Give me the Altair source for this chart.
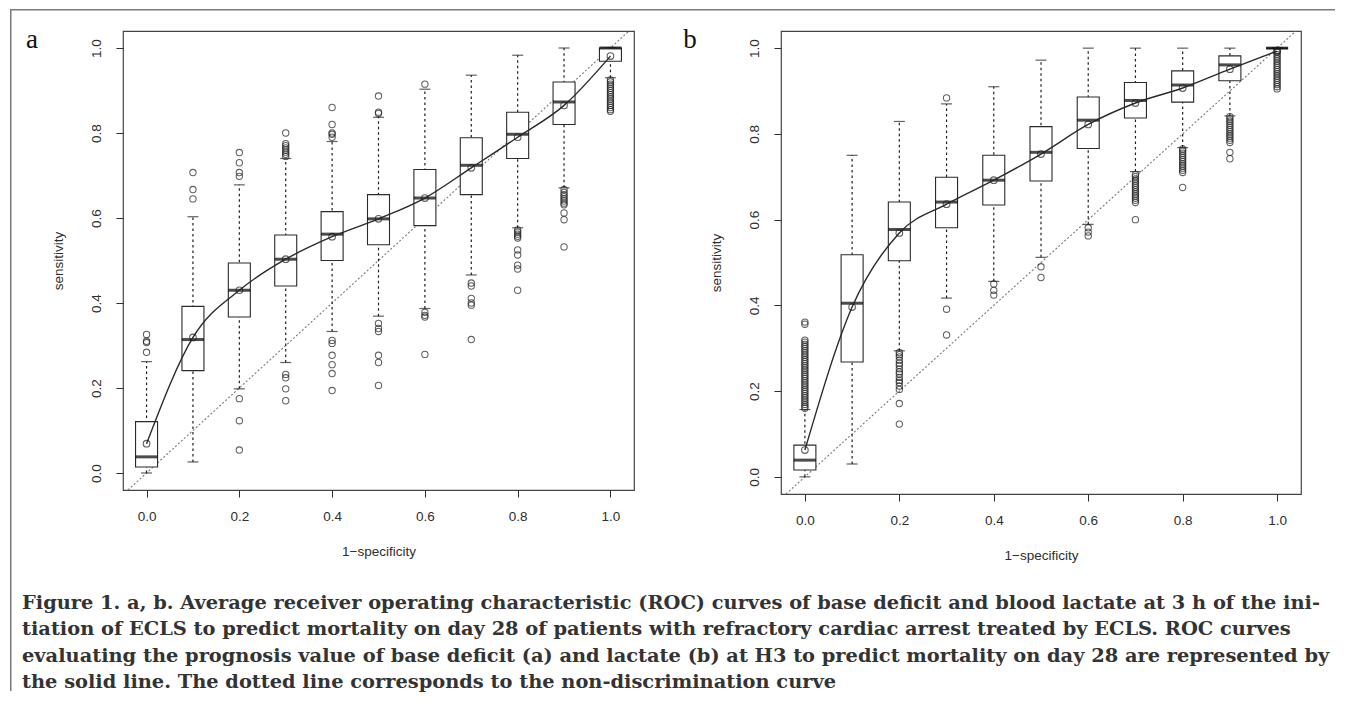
import altair as alt
import pandas as pd

# ---------------- data ----------------
POS = [0.0, 0.1, 0.2, 0.3, 0.4, 0.5, 0.6, 0.7, 0.8, 0.9, 1.0]
TICKS = [0.0, 0.2, 0.4, 0.6, 0.8, 1.0]
DIAG = [-0.04, 1.04]

# panel a : base deficit
A_LO = [0.000, 0.026, 0.198, 0.260, 0.333, 0.369, 0.387, 0.466, 0.577, 0.671, 0.930]
A_Q1 = [0.014, 0.241, 0.367, 0.440, 0.500, 0.537, 0.582, 0.655, 0.740, 0.820, 0.969]
A_MED = [0.038, 0.314, 0.430, 0.503, 0.562, 0.598, 0.647, 0.724, 0.797, 0.873, 1.000]
A_Q3 = [0.121, 0.392, 0.494, 0.560, 0.615, 0.655, 0.714, 0.789, 0.849, 0.920, 1.000]
A_HI = [0.262, 0.603, 0.678, 0.740, 0.780, 0.837, 0.903, 0.936, 0.983, 1.000, 1.000]
A_MEAN = [0.069, 0.319, 0.430, 0.503, 0.556, 0.598, 0.647, 0.718, 0.790, 0.865, 0.981]
A_OUT = [
    [0.326, 0.310, 0.307, 0.284],
    [0.645, 0.667, 0.707],
    [0.698, 0.707, 0.730, 0.754, 0.175, 0.123, 0.054],
    [0.745, 0.750, 0.755, 0.760, 0.765, 0.770, 0.775, 0.800, 0.232, 0.224, 0.198, 0.170],
    [0.790, 0.797, 0.800, 0.820, 0.860, 0.312, 0.305, 0.277, 0.255, 0.234, 0.194],
    [0.846, 0.849, 0.887, 0.352, 0.340, 0.333, 0.277, 0.260, 0.206],
    [0.915, 0.378, 0.371, 0.367, 0.279],
    [0.447, 0.440, 0.411, 0.400, 0.395, 0.314],
    [0.572, 0.567, 0.562, 0.557, 0.553, 0.525, 0.513, 0.489, 0.480, 0.430],
    [0.667, 0.660, 0.655, 0.650, 0.645, 0.640, 0.635, 0.631, 0.612, 0.596, 0.532],
    [0.925, 0.920, 0.915, 0.910, 0.905, 0.900, 0.895, 0.890, 0.885, 0.880,
     0.875, 0.870, 0.865, 0.860, 0.855, 0.851],
]

# panel b : lactate
B_LO = [0.000, 0.030, 0.294, 0.417, 0.456, 0.512, 0.589, 0.712, 0.768, 0.842, 1.000]
B_Q1 = [0.016, 0.268, 0.504, 0.581, 0.634, 0.690, 0.766, 0.837, 0.874, 0.924, 1.000]
B_MED = [0.039, 0.405, 0.577, 0.641, 0.692, 0.757, 0.832, 0.878, 0.914, 0.961, 1.000]
B_Q3 = [0.074, 0.518, 0.641, 0.699, 0.750, 0.817, 0.886, 0.920, 0.947, 0.982, 1.000]
B_HI = [0.157, 0.750, 0.829, 0.870, 0.910, 0.972, 1.000, 1.000, 1.000, 1.000, 1.000]
B_MEAN = [0.0625, 0.396, 0.569, 0.636, 0.692, 0.753, 0.822, 0.872, 0.907, 0.951, 0.993]
B_OUT = [
    [0.361, 0.356, 0.319, 0.314, 0.309, 0.304, 0.299, 0.294, 0.289, 0.284, 0.279,
     0.274, 0.269, 0.264, 0.259, 0.254, 0.249, 0.244, 0.239, 0.234, 0.229, 0.224,
     0.219, 0.214, 0.209, 0.204, 0.199, 0.194, 0.189, 0.184, 0.179, 0.174, 0.169,
     0.164, 0.160],
    [],
    [0.290, 0.285, 0.280, 0.272, 0.265, 0.260, 0.252, 0.245, 0.240, 0.232, 0.225,
     0.220, 0.212, 0.204, 0.171, 0.123],
    [0.884, 0.391, 0.331],
    [0.450, 0.435, 0.424],
    [0.490, 0.465],
    [0.581, 0.571, 0.562],
    [0.705, 0.700, 0.695, 0.690, 0.685, 0.680, 0.675, 0.670, 0.665, 0.660, 0.655,
     0.650, 0.645, 0.640, 0.600],
    [0.765, 0.760, 0.755, 0.750, 0.745, 0.740, 0.735, 0.730, 0.725, 0.720, 0.715,
     0.710, 0.675],
    [0.840, 0.835, 0.830, 0.825, 0.820, 0.815, 0.810, 0.805, 0.800, 0.795, 0.790,
     0.785, 0.780, 0.757, 0.742],
    [0.995, 0.990, 0.985, 0.980, 0.975, 0.970, 0.965, 0.960, 0.955, 0.950, 0.945,
     0.940, 0.935, 0.930, 0.925, 0.920, 0.915, 0.910, 0.905],
]

CAPTION_LINES = [
    "Figure 1. a, b. Average receiver operating characteristic (ROC) curves of base deficit and blood lactate at 3 h of the ini-",
    "tiation of ECLS to predict mortality on day 28 of patients with refractory cardiac arrest treated by ECLS. ROC curves",
    "evaluating the prognosis value of base deficit (a) and lactate (b) at H3 to predict mortality on day 28 are represented by",
    "the solid line. The dotted line corresponds to the non-discrimination curve",
]

X_TITLE = "1\u2212specificity"
Y_TITLE = "sensitivity"

SANS = "Liberation Sans"
SERIF = "Liberation Serif"
CAPFONT = "DejaVu Serif"
INK = "#1e1e1e"
AXC = "#2e2e2e"


def panel(lo, q1, med, q3, hi, mean, outs, width, height, letter, extras=None):
    stats = pd.DataFrame({"x": POS, "lo": lo, "q1": q1, "med": med,
                          "q3": q3, "hi": hi, "mean": mean})
    rows = [(p, v) for p, vs in zip(POS, outs) for v in vs]
    out_df = pd.DataFrame(rows, columns=["x", "v"])
    diag_df = pd.DataFrame({"dx": DIAG, "dy": DIAG})

    xs = alt.Scale(domain=[-0.04, 1.04], nice=False, zero=False)
    ys = alt.Scale(domain=[-0.04, 1.04], nice=False, zero=False)
    xax = alt.Axis(values=TICKS, format=".1f", title=X_TITLE, grid=False, domain=False,
                   tickSize=7, tickColor=AXC, tickWidth=1, labelFont=SANS, labelFontSize=13.5,
                   labelColor=AXC, labelPadding=12, titleFont=SANS, titleFontSize=13.5,
                   titleFontWeight="normal", titleColor=AXC, titlePadding=22)
    yax = alt.Axis(values=TICKS, format=".1f", title=Y_TITLE, grid=False, domain=False,
                   tickSize=7, tickColor=AXC, tickWidth=1, labelFont=SANS, labelFontSize=13.5,
                   labelColor=AXC, labelPadding=13, labelAngle=-90, labelAlign="center",
                   labelBaseline="bottom", titleFont=SANS, titleFontSize=13.5,
                   titleFontWeight="normal", titleColor=AXC, titlePadding=24)

    X = alt.X("x:Q", scale=xs, axis=xax)

    def Y(f):
        return alt.Y(f, type="quantitative", scale=ys, axis=yax)

    base = alt.Chart(stats)

    diag = alt.Chart(diag_df).mark_line(color="#7a7a7a", strokeDash=[2, 2], strokeWidth=1.1).encode(
        x=alt.X("dx:Q", scale=xs, axis=xax), y=Y("dy"))
    whisk = base.mark_rule(color=INK, strokeDash=[2.5, 3], strokeWidth=1.2).encode(
        x=X, y=Y("lo"), y2="hi:Q")
    cap_lo = base.mark_tick(orient="horizontal", size=11, thickness=1.2, color=INK).encode(x=X, y=Y("lo"))
    cap_hi = base.mark_tick(orient="horizontal", size=11, thickness=1.2, color=INK).encode(x=X, y=Y("hi"))
    box = base.mark_bar(size=22, fill="white", stroke="#2a2a2a", strokeWidth=1.1).encode(
        x=X, y=Y("q1"), y2="q3:Q")
    median = base.mark_tick(orient="horizontal", size=22, thickness=3, color="#000000").encode(
        x=X, y=Y("med"))
    mline = base.mark_line(color="#2a2a2a", strokeWidth=1.4, interpolate="monotone").encode(
        x=X, y=Y("mean"))
    mpts = base.mark_point(shape="circle", filled=False, size=44, color=INK, strokeWidth=1.1).encode(
        x=X, y=Y("mean"))
    opts = alt.Chart(out_df).mark_point(shape="circle", filled=False, size=40, color=INK,
                                        strokeWidth=1.05).encode(x=X, y=Y("v"))
    lab = alt.Chart(pd.DataFrame({"t": [letter]})).mark_text(
        font=SERIF, fontSize=27, color="#111111", align="center", baseline="alphabetic").encode(
        x=alt.value(-91), y=alt.value(17), text="t:N")

    layers = [diag, whisk, cap_lo, cap_hi, box, median, mline, mpts, opts, lab]
    if extras:
        layers += extras
    return alt.layer(*layers).properties(width=width, height=height)


one = pd.DataFrame({"k": [0]})
frame_left = alt.Chart(one).mark_rule(color="#7a7a7a", strokeWidth=1.5).encode(
    x=alt.value(-112.25), y=alt.value(-21.25), y2=alt.value(660))
frame_top = alt.Chart(one).mark_rule(color="#7a7a7a", strokeWidth=1.5).encode(
    x=alt.value(-113), x2=alt.value(1212), y=alt.value(-21.25))
caption = alt.Chart(one).mark_text(
    font=CAPFONT, fontSize=19.4, fontWeight="bold", color="#333333", align="left",
    baseline="alphabetic", lineHeight=26.3).encode(
    x=alt.value(-101), y=alt.value(578), text=alt.value(CAPTION_LINES))

pa = panel(A_LO, A_Q1, A_MED, A_Q3, A_HI, A_MEAN, A_OUT, 511, 459, "a",
           extras=[frame_left, frame_top, caption])
pb = panel(B_LO, B_Q1, B_MED, B_Q3, B_HI, B_MEAN, B_OUT, 520, 463, "b")

chart = alt.hconcat(pa, pb, spacing=147, bounds="flush").properties(
    padding={"left": 0, "top": 0, "right": 0, "bottom": 0},
    background="white",
).configure_view(stroke="#444444", strokeWidth=1.2)

chart.save("out.html", embed_options={"renderer": "svg", "actions": False})
